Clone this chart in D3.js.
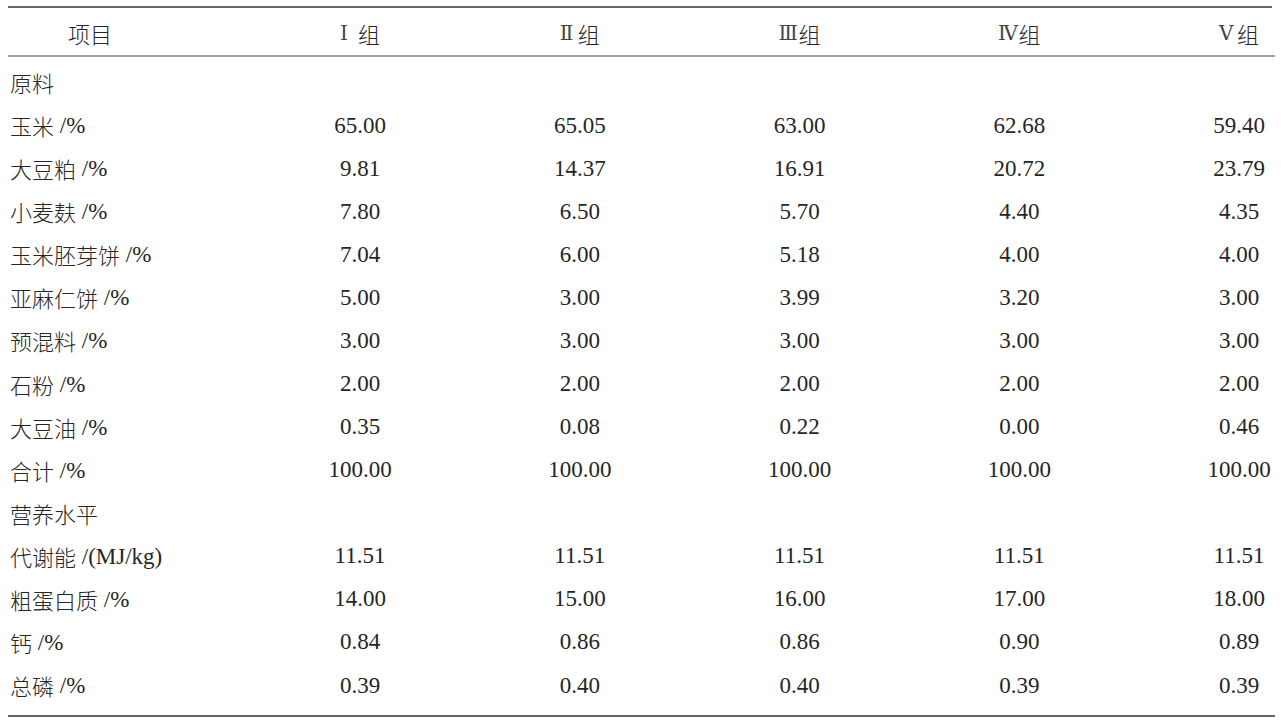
<!DOCTYPE html>
<html><head><meta charset="utf-8">
<script src="https://cdn.jsdelivr.net/npm/d3@7/dist/d3.min.js"></script>
<style>
html,body{margin:0;padding:0;background:#fff;}
svg{display:block;}
</style></head>
<body>
<svg id="chart" width="1281" height="720"></svg>
<script>
const headerLabel = "项目";
const groups = ["Ⅰ组", "Ⅱ组", "Ⅲ组", "Ⅳ组", "Ⅴ组"];
const rowLabels = ["原料", "玉米 /%", "大豆粕 /%", "小麦麸 /%", "玉米胚芽饼 /%", "亚麻仁饼 /%", "预混料 /%", "石粉 /%", "大豆油 /%", "合计 /%", "营养水平", "代谢能 /(MJ/kg)", "粗蛋白质 /%", "钙 /%", "总磷 /%"];
const groupI   = [null, "65.00", "9.81", "7.80", "7.04", "5.00", "3.00", "2.00", "0.35", "100.00", null, "11.51", "14.00", "0.84", "0.39"];
const groupII  = [null, "65.05", "14.37", "6.50", "6.00", "3.00", "3.00", "2.00", "0.08", "100.00", null, "11.51", "15.00", "0.86", "0.40"];
const groupIII = [null, "63.00", "16.91", "5.70", "5.18", "3.99", "3.00", "2.00", "0.22", "100.00", null, "11.51", "16.00", "0.86", "0.40"];
const groupIV  = [null, "62.68", "20.72", "4.40", "4.00", "3.20", "3.00", "2.00", "0.00", "100.00", null, "11.51", "17.00", "0.90", "0.39"];
const groupV   = [null, "59.40", "23.79", "4.35", "4.00", "3.00", "3.00", "2.00", "0.46", "100.00", null, "11.51", "18.00", "0.89", "0.39"];
const columns = [groupI, groupII, groupIII, groupIV, groupV];

const svg = d3.select("#chart");
const ink = "#262626";
const fontStack = "'Liberation Serif','Times New Roman','DejaVu Serif','Noto Sans CJK SC',serif";
const numeralFont = "'DejaVu Serif','Liberation Serif',serif";
const cjkFont = "'Noto Sans CJK SC',sans-serif";
const x = d3.scalePoint().domain(groups).range([360, 1239]);
const y = d3.scalePoint().domain(rowLabels.map((d,i)=>i)).range([82, 685]);
const headerY = 33;
const numeralAdvance = 18;

// rules
svg.append("line").attr("x1", 8).attr("x2", 1272).attr("y1", 7).attr("y2", 7)
  .attr("stroke", "#333").attr("stroke-width", 1.6);
svg.append("line").attr("x1", 8).attr("x2", 1275).attr("y1", 56).attr("y2", 56)
  .attr("stroke", "#444").attr("stroke-width", 1.1);
svg.append("line").attr("x1", 8).attr("x2", 1275).attr("y1", 716).attr("y2", 716)
  .attr("stroke", "#333").attr("stroke-width", 1.6);

const txt = svg.append("g").attr("font-family", fontStack).attr("fill", ink)
  .attr("dominant-baseline", "central");

// mixed-script text helper
const isCJK = s => /[\u4e00-\u9fff]/.test(s);
const isNumeral = s => /[\u2160-\u217f]/.test(s);
function fill(t, lab) {
  const parts = lab.match(/[\u4e00-\u9fff]+|[\u2160-\u217f]+|[^\u4e00-\u9fff\u2160-\u217f]+/g);
  let pad = 0;
  parts.forEach(p => {
    const ts = t.append("tspan").text(p);
    if (pad > 0) ts.attr("dx", pad);
    pad = 0;
    if (isCJK(p)) ts.attr("font-family", cjkFont).attr("font-weight", 300).attr("font-size", 22);
    else if (isNumeral(p)) {
      ts.attr("font-family", numeralFont).attr("font-size", 20).attr("fill", "#444");
      const w = ts.node().getComputedTextLength();
      pad = Math.max(0.5, numeralAdvance - w);
    }
    else ts.attr("font-family", fontStack).attr("font-size", 23);
  });
}

// header
txt.append("text").attr("x", 90).attr("y", headerY).attr("text-anchor", "middle")
  .attr("font-size", 22).attr("font-family", cjkFont).attr("font-weight", 300)
  .text(headerLabel);
groups.forEach(g => {
  const t = txt.append("text").attr("x", x(g)).attr("y", headerY).attr("text-anchor", "middle");
  fill(t, g);
});

// row labels
rowLabels.forEach((lab, i) => {
  const t = txt.append("text").attr("x", 10).attr("y", y(i));
  fill(t, lab);
});

// values
columns.forEach((col, j) => {
  txt.selectAll(null).data(col.map((v,i)=>({v,i})).filter(d => d.v !== null)).join("text")
    .attr("x", x(groups[j])).attr("y", d => y(d.i)).attr("text-anchor", "middle")
    .attr("font-size", 23).text(d => d.v);
});
</script>
</body></html>
